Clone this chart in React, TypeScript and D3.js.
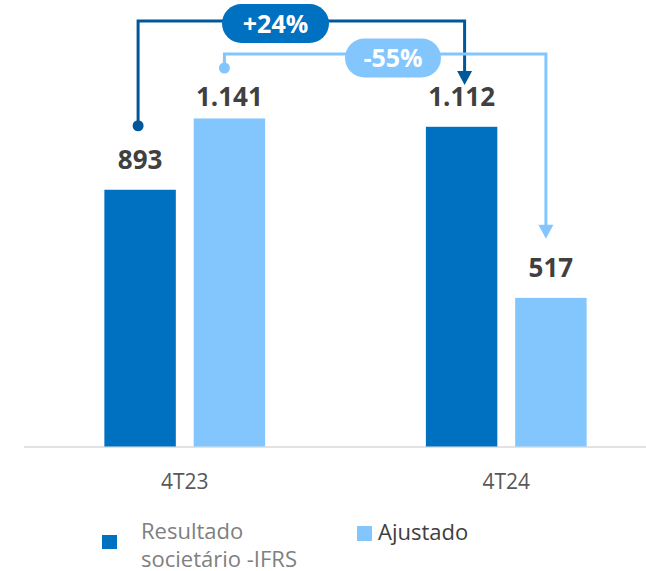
import React from 'react';
import * as d3 from 'd3';

const categories = ['4T23', '4T24'];
const series = ['Resultado societário -IFRS', 'Ajustado'];
const societario = [893, 1112];
const ajustado = [1141, 517];
const valueLabels = [['893', '1.141'], ['1.112', '517']];
const changes = ['+24%', '-55%'];

const W = 646;
const H = 571;
const DARK = '#0070C0';
const DARK_LINE = '#00589A';
const LIGHT = '#83C6FD';
const TEXT = '#404040';
const FONT = '"Open Sans", sans-serif';

export default function App() {
  const x0 = d3.scaleBand<string>().domain(categories).range([24, 667])
    .paddingInner(0.5).paddingOuter(0.25);
  const x1 = d3.scaleBand<string>().domain(series).range([0, x0.bandwidth()])
    .paddingInner(0.2).paddingOuter(0);
  const y = d3.scaleLinear().domain([0, 1200]).range([446.5, 101.5]);

  const values = [societario, ajustado];
  const cx = (ci: number, si: number) => x0(categories[ci])! + x1(series[si])! + x1.bandwidth() / 2;
  const labelY = (ci: number, si: number) => Math.max(y(values[si][ci]) - 21, 106);

  // connectors: dark goes from 4T23 societário to 4T24 societário, light from 4T23 ajustado to 4T24 ajustado
  const conns = [
    { si: 0, lineY: 21, dotY: labelY(0, 0) - 43, tipY: labelY(1, 0) - 21, dx0: -2, dx1: 3, col: DARK_LINE, fill: DARK, bx: 275.5, by: 23.5, bw: 107 },
    { si: 1, lineY: 54, dotY: 68, tipY: labelY(1, 1) - 38, dx0: -5, dx1: -5, col: LIGHT, fill: LIGHT, bx: 393, by: 58, bw: 96 },
  ];

  return (
    <svg width={W} height={H} style={{ position: 'absolute', left: 0, top: 0 }} fontFamily={FONT}>
      <rect width={W} height={H} fill="#fff" />
      <line x1={24} x2={646} y1={447} y2={447} stroke="#d9d9d9" strokeWidth={1.5} />
      {categories.map((c, ci) => (
        <g key={c}>
          {series.map((s, si) => (
            <rect key={s} x={x0(c)! + x1(s)!} width={x1.bandwidth()} y={y(values[si][ci])}
              height={y(0) - y(values[si][ci])} fill={si === 0 ? DARK : LIGHT} />
          ))}
          {series.map((s, si) => (
            <text key={s + 'l'} x={cx(ci, si)} y={labelY(ci, si)} textAnchor="middle"
              fontSize={26} fontWeight="bold" fill={TEXT}>{valueLabels[ci][si]}</text>
          ))}
          <text x={x0(c)! + x0.bandwidth() / 2} y={489} textAnchor="middle" fontSize={21} fill="#595959">{c}</text>
        </g>
      ))}
      {conns.map((k, i) => {
        const xa = cx(0, k.si) + k.dx0;
        const xb = cx(1, k.si) + k.dx1;
        return (
          <g key={i}>
            <path d={`M${xa},${k.dotY}V${k.lineY}H${xb}V${k.tipY - 12}`} fill="none" stroke={k.col} strokeWidth={3} />
            <circle cx={xa} cy={k.dotY} r={5.5} fill={k.col} />
            <path d={`M${xb - 7.5},${k.tipY - 14}H${xb + 7.5}L${xb},${k.tipY}Z`} fill={k.col} />
            <rect x={k.bx - k.bw / 2} y={k.by - 19.5} width={k.bw} height={39} rx={19.5} fill={k.fill} />
            <text x={k.bx} y={k.by + 9} textAnchor="middle" fontSize={25} fontWeight="bold" fill="#fff">{changes[i]}</text>
          </g>
        );
      })}
      <rect x={102} y={535} width={15} height={14} fill={DARK} />
      <text x={141} y={539} fontSize={22} fill="#808080">
        <tspan x={141}>Resultado</tspan>
        <tspan x={141} dy={28}>societário -IFRS</tspan>
      </text>
      <rect x={357} y={526} width={15} height={15} fill={LIGHT} />
      <text x={378} y={540} fontSize={22} fill={TEXT}>{series[1]}</text>
    </svg>
  );
}
